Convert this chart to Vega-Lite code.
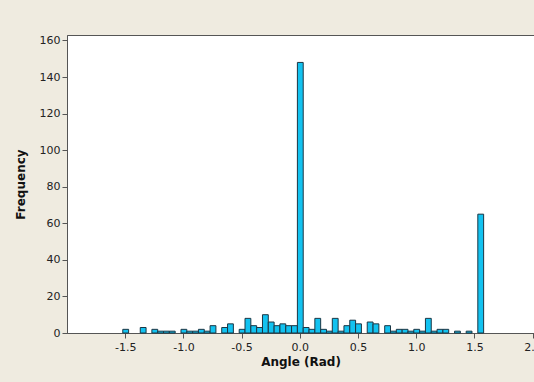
{
  "$schema": "https://vega.github.io/schema/vega-lite/v6.json",
  "autosize": {"type": "none"},
  "padding": {"left": 67, "top": 35, "right": 0, "bottom": 49},
  "width": 467,
  "height": 298,
  "background": "#EFEBE0",
  "config": {
    "font": "DejaVu Sans",
    "view": {"fill": "white", "stroke": "#555555", "strokeWidth": 1},
    "axis": {
      "grid": false,
      "domainColor": "#555555",
      "tickColor": "#555555",
      "tickSize": 5,
      "labelFontSize": 11,
      "labelColor": "#222222",
      "titleFontSize": 12,
      "titleFontWeight": "bold",
      "titleColor": "#111111"
    }
  },
  "data": {
    "values": [
      {"lo": -1.525, "hi": -1.475, "n": 2},
      {"lo": -1.375, "hi": -1.325, "n": 3},
      {"lo": -1.275, "hi": -1.225, "n": 2},
      {"lo": -1.225, "hi": -1.175, "n": 1},
      {"lo": -1.175, "hi": -1.125, "n": 1},
      {"lo": -1.125, "hi": -1.075, "n": 1},
      {"lo": -1.025, "hi": -0.975, "n": 2},
      {"lo": -0.975, "hi": -0.925, "n": 1},
      {"lo": -0.925, "hi": -0.875, "n": 1},
      {"lo": -0.875, "hi": -0.825, "n": 2},
      {"lo": -0.825, "hi": -0.775, "n": 1},
      {"lo": -0.775, "hi": -0.725, "n": 4},
      {"lo": -0.675, "hi": -0.625, "n": 3},
      {"lo": -0.625, "hi": -0.575, "n": 5},
      {"lo": -0.525, "hi": -0.475, "n": 2},
      {"lo": -0.475, "hi": -0.425, "n": 8},
      {"lo": -0.425, "hi": -0.375, "n": 4},
      {"lo": -0.375, "hi": -0.325, "n": 3},
      {"lo": -0.325, "hi": -0.275, "n": 10},
      {"lo": -0.275, "hi": -0.225, "n": 6},
      {"lo": -0.225, "hi": -0.175, "n": 4},
      {"lo": -0.175, "hi": -0.125, "n": 5},
      {"lo": -0.125, "hi": -0.075, "n": 4},
      {"lo": -0.075, "hi": -0.025, "n": 4},
      {"lo": -0.025, "hi": 0.025, "n": 148},
      {"lo": 0.025, "hi": 0.075, "n": 3},
      {"lo": 0.075, "hi": 0.125, "n": 2},
      {"lo": 0.125, "hi": 0.175, "n": 8},
      {"lo": 0.175, "hi": 0.225, "n": 2},
      {"lo": 0.225, "hi": 0.275, "n": 1},
      {"lo": 0.275, "hi": 0.325, "n": 8},
      {"lo": 0.325, "hi": 0.375, "n": 1},
      {"lo": 0.375, "hi": 0.425, "n": 4},
      {"lo": 0.425, "hi": 0.475, "n": 7},
      {"lo": 0.475, "hi": 0.525, "n": 5},
      {"lo": 0.575, "hi": 0.625, "n": 6},
      {"lo": 0.625, "hi": 0.675, "n": 5},
      {"lo": 0.725, "hi": 0.775, "n": 4},
      {"lo": 0.775, "hi": 0.825, "n": 1},
      {"lo": 0.825, "hi": 0.875, "n": 2},
      {"lo": 0.875, "hi": 0.925, "n": 2},
      {"lo": 0.925, "hi": 0.975, "n": 1},
      {"lo": 0.975, "hi": 1.025, "n": 2},
      {"lo": 1.025, "hi": 1.075, "n": 1},
      {"lo": 1.075, "hi": 1.125, "n": 8},
      {"lo": 1.125, "hi": 1.175, "n": 1},
      {"lo": 1.175, "hi": 1.225, "n": 2},
      {"lo": 1.225, "hi": 1.275, "n": 2},
      {"lo": 1.325, "hi": 1.375, "n": 1},
      {"lo": 1.425, "hi": 1.475, "n": 1},
      {"lo": 1.525, "hi": 1.575, "n": 65}
    ]
  },
  "mark": {"type": "bar", "fill": "#12C2F0", "stroke": "#1B3644", "strokeWidth": 1, "binSpacing": 0},
  "encoding": {
    "x": {
      "field": "lo",
      "type": "quantitative",
      "bin": "binned",
      "title": "Angle (Rad)",
      "scale": {"domain": [-2, 2.012], "nice": false, "zero": false},
      "axis": {
        "values": [-1.5, -1, -0.5, 0, 0.5, 1, 1.5, 2],
        "labelExpr": "replace(format(datum.value, '.1f'), '\u2212', '-')",
        "labelPadding": 3,
        "titlePadding": 4
      }
    },
    "x2": {"field": "hi"},
    "y": {
      "field": "n",
      "type": "quantitative",
      "title": "Frequency",
      "scale": {"domain": [0, 163], "nice": false},
      "axis": {
        "values": [0, 20, 40, 60, 80, 100, 120, 140, 160],
        "labelPadding": 2,
        "titlePadding": 12
      }
    }
  }
}
